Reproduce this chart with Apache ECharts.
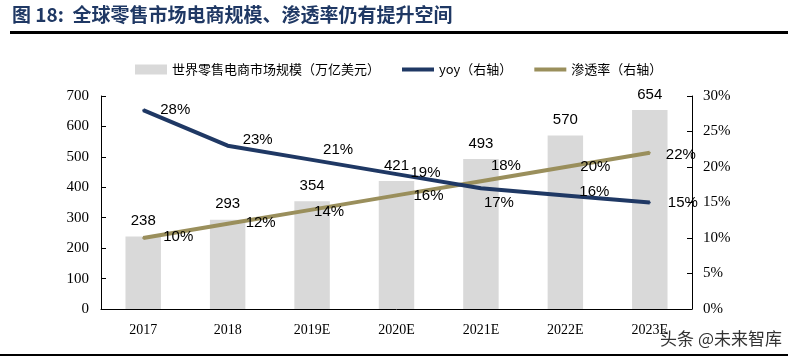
<!DOCTYPE html>
<html><head><meta charset="utf-8">
<script src="https://cdn.jsdelivr.net/npm/echarts@6/dist/echarts.min.js"></script>
<style>html,body{margin:0;padding:0;background:#fff}#c{width:788px;height:361px}</style>
</head><body><div id="c"></div>
<script>
const categories = ['2017','2018','2019E','2020E','2021E','2022E','2023E'];
const marketSize = [238, 293, 354, 421, 493, 570, 654];
const yoy = [28, 23, 21, 19, 17, 16, 15];
const penetration = [10, 12, 14, 16, 18, 20, 22];
const leftTicks = [0,100,200,300,400,500,600,700];
const rightTicks = [0,5,10,15,20,25,30];

const chart = echarts.init(document.getElementById('c'));
const serif = '"Liberation Serif","Times New Roman",serif';
const sans = '"Liberation Sans",Arial,sans-serif';
const lblStyle = {color:'#000', fontFamily: sans, fontSize: 15};

const yoyPos = [['right',[11,0]],['right',[9,-6]],['right',[5,-10]],['right',[8,-1]],['bottom',[18,1]],['right',[8,-4]],['right',[12,0]]];
const penPos = [['right',[14,-1]],['right',[12,-1]],['right',[-4,2]],['right',[11,0]],['top',[25,-2]],['right',[9,0]],['right',[10,2]]];

chart.setOption({
  animation:false,
  grid:{left:101, right:96, top:96, bottom:52},
  legend:{
    top:58, left:130, itemGap:22, itemWidth:32, itemHeight:10,
    textStyle:{fontFamily:'"Noto Sans CJK SC",sans-serif', fontSize:13, color:'#000'},
    data:[
      {name:'世界零售电商市场规模（万亿美元）', icon:'rect'},
      {name:'yoy（右轴）', icon:'path://M0,0 L32,0 L32,4 L0,4 Z', itemStyle:{color:'#1f3864'}},
      {name:'渗透率（右轴）', icon:'path://M0,0 L32,0 L32,4 L0,4 Z', itemStyle:{color:'#9a8f5c'}}
    ]
  },
  xAxis:{
    type:'category', data:categories,
    axisLine:{lineStyle:{color:'#000'}},
    axisTick:{inside:true, length:5, lineStyle:{color:'#000'}},
    axisLabel:{color:'#000', fontFamily:serif, fontSize:14, margin:14}
  },
  yAxis:[
    {type:'value', min:0, max:700, interval:100, position:'left',
     axisLine:{show:true, lineStyle:{color:'#000'}},
     axisTick:{show:true, inside:true, length:5, lineStyle:{color:'#000'}},
     splitLine:{show:false},
     axisLabel:{color:'#000', fontFamily:serif, fontSize:15, margin:12,
       formatter:v=>leftTicks.includes(v)?String(v):''}},
    {type:'value', min:0, max:30, interval:5, position:'right',
     axisLine:{show:true, lineStyle:{color:'#000'}},
     axisTick:{show:true, inside:true, length:5, lineStyle:{color:'#000'}},
     splitLine:{show:false},
     axisLabel:{color:'#000', fontFamily:serif, fontSize:15, margin:11,
       formatter:v=>rightTicks.includes(v)?v+'%':''}}
  ],
  series:[
    {name:'世界零售电商市场规模（万亿美元）', type:'bar', data:marketSize, barWidth:'42%',
     itemStyle:{color:'#d9d9d9'},
     label:{show:true, position:'top', distance:8, ...lblStyle}},
    {name:'yoy（右轴）', type:'line', yAxisIndex:1, symbol:'circle', symbolSize:2, showSymbol:true, z:5,
     lineStyle:{color:'#1f3864', width:4},
     itemStyle:{color:'#1f3864'},
     data: yoy.map((v,i)=>({value:v, label:{show:true, position:yoyPos[i][0], offset:yoyPos[i][1], ...lblStyle, formatter:'{c}%'}}))},
    {name:'渗透率（右轴）', type:'line', yAxisIndex:1, symbol:'circle', symbolSize:2, showSymbol:true, z:4,
     lineStyle:{color:'#9a8f5c', width:4},
     itemStyle:{color:'#9a8f5c'},
     data: penetration.map((v,i)=>({value:v, label:{show:true, position:penPos[i][0], offset:penPos[i][1], ...lblStyle, formatter:'{c}%'}}))}
  ],
  graphic:[
    {type:'text', left:12, top:5, style:{text:'图 18:  全球零售市场电商规模、渗透率仍有提升空间', fill:'#1f3864',
      font:'bold 19px "Noto Sans CJK SC", serif'}},
    {type:'rect', shape:{x:10, y:31, width:778, height:3}, style:{fill:'#000'}},
    {type:'rect', shape:{x:0, y:354, width:788, height:2}, style:{fill:'#000'}},
    {type:'text', right:6, top:330, style:{text:'头条 @未来智库', fill:'#333', font:'17px "Noto Sans CJK SC", sans-serif'}}
  ]
});
</script></body></html>
